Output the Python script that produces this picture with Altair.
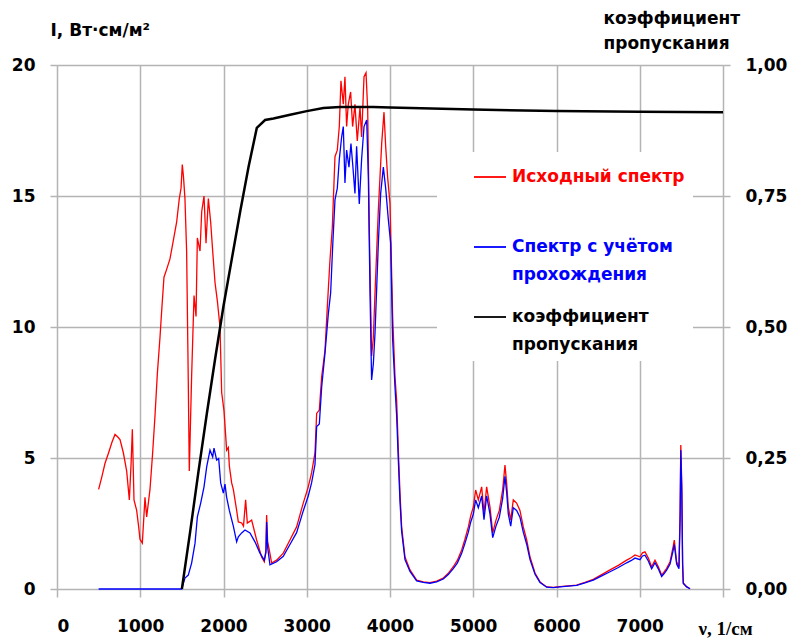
import altair as alt
import pandas as pd

# Исходный спектр: волновое число (1/см) и интенсивность (Вт·см/м²)
nu_src = [500, 540, 577, 620, 660, 697, 730, 757, 797, 837, 869, 890, 905, 925, 957, 980, 997, 1025,
          1057, 1077, 1117, 1149, 1177, 1205, 1237, 1257, 1285, 1317, 1357, 1397, 1437, 1469, 1490,
          1505, 1520, 1537, 1557, 1577, 1589, 1617, 1646, 1670, 1686, 1718, 1738, 1766, 1790, 1818,
          1846, 1870, 1898, 1926, 1958, 1978, 2006, 2038, 2058, 2070, 2098, 2118, 2158, 2178, 2218,
          2240, 2266, 2286, 2338, 2398, 2458, 2490, 2510, 2518, 2530, 2550, 2578, 2638, 2718, 2798,
          2878, 2958, 3018, 3058, 3099, 3119, 3151, 3179, 3219, 3247, 3279, 3307, 3339, 3367, 3391,
          3411, 3439, 3459, 3479, 3499, 3527, 3551, 3579, 3607, 3640, 3659, 3688, 3712, 3732, 3751,
          3779, 3800, 3820, 3860, 3900, 3928, 3948, 3972, 4000, 4032, 4060, 4080, 4100, 4120, 4140,
          4180, 4240, 4320, 4400, 4480, 4560, 4640, 4700, 4760, 4810, 4861, 4900, 4941, 4970, 5001,
          5029, 5061, 5101, 5129, 5161, 5201, 5234, 5273, 5313, 5353, 5381, 5401, 5421, 5450, 5481,
          5521, 5561, 5601, 5642, 5682, 5742, 5802, 5882, 5962, 6042, 6142, 6242, 6342, 6442, 6543,
          6643, 6743, 6843, 6900, 6943, 7003, 7033, 7063, 7103, 7143, 7183, 7223, 7263, 7293, 7323,
          7364, 7400, 7415, 7443, 7471, 7485, 7493, 7505, 7515, 7523, 7563, 7604]
i_src = [3.8, 4.3, 4.8, 5.2, 5.6, 5.9, 5.8, 5.7, 5.2, 4.5, 3.4, 4.8, 6.1, 3.4, 3.0, 2.4, 1.9, 1.75,
         3.5, 2.75, 3.8, 5.2, 6.6, 8.2, 9.6, 10.6, 11.9, 12.2, 12.6, 13.3, 14.0, 14.9, 15.3,
         16.2, 15.7, 14.9, 12.9, 7.9, 4.5, 8.1, 11.2, 10.4, 13.4, 12.9, 14.4, 15.0, 13.2, 14.9,
         14.0, 12.9, 11.7, 11.0, 10.0, 7.5, 6.8, 5.3, 5.4, 4.7, 4.05, 3.8, 3.0, 2.56, 2.52,
         2.4, 3.4, 2.52, 2.63, 1.87, 1.22, 1.04, 1.5, 2.82, 1.8, 1.49, 0.99, 1.1, 1.37, 1.87,
         2.37, 3.28, 3.9, 4.43, 5.2, 6.7, 6.83, 8.1, 9.1, 10.76, 12.55, 13.8, 16.5, 16.75, 17.65,
         19.4, 18.5, 19.55, 17.65, 18.5, 18.97, 17.65, 18.5, 17.1, 18.4, 17.25, 19.55, 19.7, 18.3, 13.8,
         8.9, 9.6, 11.3, 14.47, 17.0, 18.2, 16.9, 15.7, 14.7, 10.4, 8.1, 7.2, 5.3, 3.66, 2.37,
         1.22, 0.73, 0.34, 0.27, 0.24, 0.3, 0.42, 0.6, 0.85, 1.1, 1.49, 1.9, 2.37, 2.8, 3.13,
         3.78, 3.4, 3.9, 2.9, 3.9, 3.13, 2.14, 2.63, 3.0, 3.78, 4.73, 4.05, 3.13, 2.63, 3.4,
         3.28, 3.0, 2.37, 1.87, 1.22, 0.61, 0.27, 0.08, 0.06, 0.09, 0.12, 0.15, 0.25, 0.37, 0.55,
         0.73, 0.9, 1.1, 1.2, 1.3, 1.23, 1.38, 1.42, 1.18, 0.85, 1.1, 0.85, 0.53, 0.65, 0.79,
         1.04, 1.6, 1.87, 1.04, 0.85, 3.0, 5.5, 4.0, 1.0, 0.23, 0.09, 0.01]

# Спектр с учётом прохождения
nu_tr = [500, 1000, 1497, 1537, 1577, 1617, 1658, 1686, 1726, 1766, 1798, 1838, 1870, 1886, 1918,
         1942, 1966, 1998, 2018, 2038, 2070, 2118, 2158, 2178, 2218, 2258, 2318, 2378, 2438, 2490,
         2510, 2518, 2530, 2558, 2638, 2718, 2798, 2878, 2958, 3018, 3058, 3099, 3119, 3151, 3179,
         3219, 3259, 3287, 3311, 3339, 3367, 3391, 3419, 3439, 3459, 3479, 3507, 3531, 3551, 3579,
         3599, 3631, 3659, 3688, 3720, 3740, 3760, 3779, 3800, 3820, 3860, 3888, 3920, 3948, 3980,
         4008, 4032, 4060, 4080, 4100, 4120, 4140, 4180, 4240, 4320, 4400, 4480, 4560, 4640, 4700,
         4760, 4810, 4861, 4900, 4941, 4970, 5001, 5029, 5061, 5101, 5129, 5161, 5201, 5234, 5273,
         5313, 5353, 5381, 5401, 5421, 5450, 5481, 5521, 5561, 5601, 5642, 5682, 5742, 5802, 5882,
         5962, 6042, 6142, 6242, 6342, 6442, 6543, 6643, 6743, 6843, 6900, 6943, 7003, 7033, 7063,
         7103, 7143, 7183, 7223, 7263, 7293, 7323, 7364, 7400, 7415, 7443, 7471, 7485, 7493, 7505,
         7515, 7523, 7563, 7604]
i_tr = [0.0, 0.0, 0.0, 0.42, 0.53, 0.99, 1.75, 2.75, 3.28, 3.9, 4.66, 5.3, 5.04, 5.38, 4.92,
        4.98, 4.05, 3.66, 4.0, 3.5, 3.0, 2.4, 1.8, 1.99, 2.14, 2.25, 2.14, 1.8, 1.37, 1.1,
        1.4, 2.56, 1.6, 0.92, 1.04, 1.25, 1.7, 2.15, 2.98, 3.55, 4.05, 4.75, 6.2, 6.3, 7.7,
        9.0, 10.5, 11.3, 13.05, 14.85, 15.3, 16.4, 17.25, 17.65, 15.5, 16.75, 16.1, 17.0, 16.25, 15.1,
        16.9, 14.7, 16.4, 17.65, 17.9, 15.7, 11.3, 7.98, 8.6, 9.77, 13.2, 15.1, 16.1, 15.3, 14.1,
        13.2, 9.5, 7.7, 6.6, 4.92, 3.35, 2.2, 1.12, 0.67, 0.31, 0.25, 0.22, 0.27, 0.38, 0.55,
        0.78, 1.0, 1.36, 1.74, 2.17, 2.56, 2.86, 3.4, 3.1, 3.55, 2.65, 3.55, 2.86, 1.96, 2.4,
        2.74, 3.45, 4.3, 3.7, 2.86, 2.4, 3.1, 3.0, 2.74, 2.17, 1.71, 1.12, 0.56, 0.25, 0.07,
        0.05, 0.08, 0.11, 0.14, 0.23, 0.34, 0.5, 0.66, 0.82, 1.0, 1.09, 1.18, 1.12, 1.26, 1.29,
        1.07, 0.77, 1.0, 0.77, 0.48, 0.59, 0.72, 0.95, 1.46, 1.7, 0.95, 0.77, 2.7, 5.3, 3.7,
        0.9, 0.21, 0.08, 0.01]

# Коэффициент пропускания (правая ось)
nu_coef = [1500, 1600, 1700, 1800, 1900, 2000, 2100, 2200, 2300, 2400, 2500, 2600, 2800,
           3000, 3200, 3400, 3800, 4000, 5000, 6000, 7000, 8000]
coef = [0.0, 0.11, 0.225, 0.335, 0.44, 0.54, 0.63, 0.72, 0.805, 0.88, 0.895, 0.898, 0.905,
        0.912, 0.918, 0.92, 0.92, 0.919, 0.915, 0.912, 0.911, 0.91]

S1 = "Исходный спектр"
S2 = "Спектр с учётом прохождения"
S3 = "коэффициент пропускания"

src_df = pd.DataFrame({"nu": nu_src, "I": i_src, "series": S1})
tr_df = pd.DataFrame({"nu": nu_tr, "I": i_tr, "series": S2})
coef_df = pd.DataFrame({"nu": nu_coef, "T": coef, "series": S3})

FONT = "DejaVu Sans"
GRID = "#b4b4b4"

legend = alt.Legend(
    title=None, orient="none", legendX=380, legendY=87,
    fillColor="white", padding=8, rowPadding=17,
    symbolType="stroke", symbolSize=1024, symbolStrokeWidth=1.8,
    symbolOffset=28, labelOffset=5,
    labelFont=FONT, labelFontSize=17, labelFontWeight="bold", labelBaseline="middle",
    labelLimit=400,
    labelExpr=(f"datum.value == '{S1}' ? ['Исходный спектр', ' '] : "
               f"datum.value == '{S2}' ? ['Спектр с учётом', 'прохождения'] : "
               "['коэффициент', 'пропускания']"),
    labelColor={"expr": f"datum.value == '{S1}' ? '#ff0000' : "
                        f"datum.value == '{S2}' ? '#0000ff' : '#000000'"},
)

color = alt.Color(
    "series:N",
    scale=alt.Scale(domain=[S1, S2, S3], range=["#ff0000", "#0000ff", "#000000"]),
    legend=legend,
)

x_enc = alt.X(
    "nu:Q",
    scale=alt.Scale(domain=[0, 8000], nice=False),
    axis=alt.Axis(
        values=list(range(0, 8001, 1000)),
        labelExpr="datum.value >= 8000 ? '' : format(datum.value, 'd')",
        title="ν, 1/см", titleAngle=0, titleAlign="left", titleBaseline="middle",
        titleX=641, titleY=39, titleFont="Liberation Serif", titleFontSize=19,
        titleFontWeight="bold", titleColor="black",
        labelFont=FONT, labelFontSize=17, labelFontWeight="bold", labelColor="black",
        labelPadding=21, tickSize=8, tickColor=GRID, tickWidth=1.5,
        domain=False, grid=True, gridColor=GRID, gridWidth=1.5,
    ),
)

y_left = alt.Y(
    "I:Q",
    scale=alt.Scale(domain=[0, 20], nice=False),
    axis=alt.Axis(
        values=[0, 5, 10, 15, 20],
        title="I, Вт·см/м²", titleAngle=0, titleAlign="left", titleBaseline="middle",
        titleX=-7, titleY=-35, titleFont=FONT, titleFontSize=17, titleFontWeight="bold",
        titleColor="black",
        labelFont=FONT, labelFontSize=17, labelFontWeight="bold", labelColor="black",
        labelPadding=15, tickSize=7, tickColor=GRID, tickWidth=1.5,
        domain=False, grid=True, gridColor=GRID, gridWidth=1.5,
    ),
)

y_right = alt.Y(
    "T:Q",
    scale=alt.Scale(domain=[0, 1], nice=False),
    axis=alt.Axis(
        orient="right", values=[0, 0.25, 0.5, 0.75, 1.0],
        labelExpr="replace(format(datum.value, '.2f'), '.', ',')",
        title=["коэффициент", "пропускания"], titleAngle=0, titleAlign="left",
        titleBaseline="middle", titleX=-120, titleY=-47, titleLineHeight=25,
        titleFont=FONT, titleFontSize=17, titleFontWeight="bold", titleColor="black",
        labelFont=FONT, labelFontSize=17, labelFontWeight="bold", labelColor="black",
        labelPadding=15, tickSize=7, tickColor=GRID, tickWidth=1.5,
        domain=False, grid=False,
    ),
)

src_line = alt.Chart(src_df).mark_line(strokeWidth=1.3).encode(x=x_enc, y=y_left, color=color)
tr_line = alt.Chart(tr_df).mark_line(strokeWidth=1.3).encode(x=x_enc, y=y_left, color=color)
coef_line = alt.Chart(coef_df).mark_line(strokeWidth=2.5).encode(x=x_enc, y=y_right, color=color)

chart = (
    alt.layer(alt.layer(src_line, tr_line), coef_line)
    .resolve_scale(y="independent")
    .properties(
        width=666, height=524,
        padding={"left": 57, "top": 65, "right": 69, "bottom": 50},
        autosize=alt.AutoSizeParams(type="none"),
        background="white",
    )
    .configure(style={"guide-label": {"lineHeight": 28}})
    .configure_view(stroke=None)
)

chart.save("out.html", embed_options={"renderer": "svg", "actions": False})
